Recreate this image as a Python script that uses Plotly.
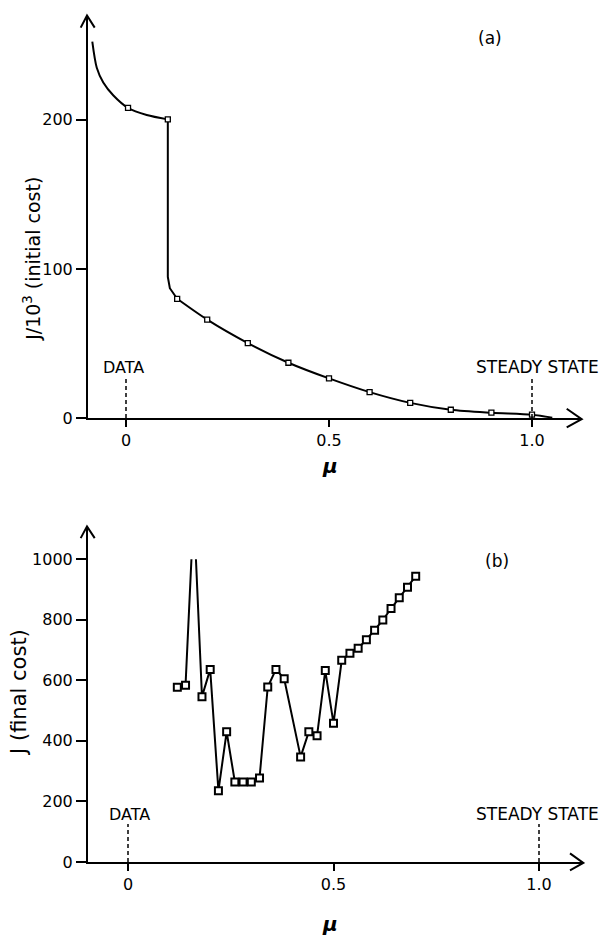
import plotly.graph_objects as go

# ---------------- data ----------------
# Panel (a): J/10^3 (initial cost) versus mu
a_top_mu = [-0.083, -0.072, -0.056, -0.031, 0.005, 0.051, 0.103]
a_top_J = [252.4, 234.9, 225.0, 216.3, 208.0, 203.2, 200.3]
a_drop_mu = [0.103, 0.103, 0.108, 0.126]
a_drop_J = [200.3, 94.7, 87.1, 80.0]
a_tail_mu = [0.126, 0.20, 0.30, 0.40, 0.50, 0.60, 0.70, 0.80, 0.90, 1.00, 1.05]
a_tail_J = [80.0, 66.0, 50.3, 37.1, 26.6, 17.4, 10.2, 5.6, 3.6, 2.3, 0.3]
a_mark_mu = [0.005, 0.103, 0.126, 0.20, 0.30, 0.40, 0.50, 0.60, 0.70, 0.80, 0.90, 1.00]
a_mark_J = [208.0, 200.3, 80.0, 66.0, 50.3, 37.1, 26.6, 17.4, 10.2, 5.6, 3.6, 2.3]

# Panel (b): J (final cost) versus mu
b_mu = [0.12, 0.14, 0.16, 0.18, 0.20, 0.22, 0.24, 0.26, 0.28, 0.30, 0.32, 0.34, 0.36, 0.38,
        0.42, 0.44, 0.46, 0.48, 0.50, 0.52, 0.54, 0.56, 0.58, 0.60, 0.62, 0.64, 0.66, 0.68, 0.70]
b_J = [577, 584, 1164, 546, 636, 235, 430, 264, 264, 264, 277, 578, 636, 605,
       347, 430, 417, 632, 458, 666, 689, 706, 734, 765, 799, 837, 873, 907, 944]

a_xticks = [0, 0.5, 1.0]
a_xticklabels = ["0", "0.5", "1.0"]
a_yticks = [0, 100, 200]
b_xticks = [0, 0.5, 1.0]
b_xticklabels = ["0", "0.5", "1.0"]
b_yticks = [0, 200, 400, 600, 800, 1000]

# ---------------- layout helpers ----------------
W, H = 604, 943
OX, OY = 0, 0  # body margin is removed by post_script
FW, FH = W - OX, H - OY


def px(x):
    return (x - OX) / FW


def py(y):
    return 1 - (y - OY) / FH


FONT = "DejaVu Sans"
BLACK = "#000000"

fig = go.Figure()

# panel (a)
fig.add_trace(go.Scatter(x=a_top_mu, y=a_top_J, mode="lines",
                         line=dict(color=BLACK, width=2, shape="spline", smoothing=0.8),
                         xaxis="x", yaxis="y", hoverinfo="skip"))
fig.add_trace(go.Scatter(x=a_drop_mu, y=a_drop_J, mode="lines",
                         line=dict(color=BLACK, width=2),
                         xaxis="x", yaxis="y", hoverinfo="skip"))
fig.add_trace(go.Scatter(x=a_tail_mu, y=a_tail_J, mode="lines",
                         line=dict(color=BLACK, width=2, shape="spline", smoothing=0.8),
                         xaxis="x", yaxis="y", hoverinfo="skip"))
fig.add_trace(go.Scatter(x=a_mark_mu, y=a_mark_J, mode="markers",
                         marker=dict(symbol="square", size=5, color="white",
                                     line=dict(color=BLACK, width=1.3)),
                         xaxis="x", yaxis="y"))
# panel (b)
fig.add_trace(go.Scatter(x=b_mu, y=b_J, mode="lines+markers",
                         line=dict(color=BLACK, width=2),
                         marker=dict(symbol="square", size=7, color="white",
                                     line=dict(color=BLACK, width=2)),
                         xaxis="x2", yaxis="y2"))

axis_common = dict(showline=True, linecolor=BLACK, linewidth=2, ticks="outside",
                   tickcolor=BLACK, tickwidth=2, showgrid=False, zeroline=False,
                   tickfont=dict(family=FONT, size=16, color=BLACK))

# pixel geometry
a_x0, a_x1 = 88, 581.7      # y-axis position, arrow tip
a_mu0_px, a_mu1_px = 126, 532  # mu=0, mu=1
a_ybot, a_ytop = 417.5, 6.7
a_J100 = 152.2               # px per 100
b_x0, b_x1 = 88, 583.3
b_mu0_px, b_mu1_px = 128, 539
b_ybot, b_ytop = 870.5, 561.5
b_arrow_top = 528

a_scale = a_mu1_px - a_mu0_px
b_scale = b_mu1_px - b_mu0_px

fig.update_layout(
    width=FW, height=FH, margin=dict(l=0, r=0, t=0, b=0),
    paper_bgcolor="white", plot_bgcolor="white", showlegend=False,
    xaxis=dict(domain=[px(a_x0), px(a_x1)],
               range=[(a_x0 - a_mu0_px) / a_scale, (a_x1 - a_mu0_px) / a_scale],
               tickvals=a_xticks, ticktext=a_xticklabels, ticklen=7, anchor="y",
               **axis_common),
    yaxis=dict(domain=[py(a_ybot), py(a_ytop)],
               range=[0, (a_ybot - a_ytop) / a_J100 * 100],
               tickvals=a_yticks, ticklen=10, anchor="x", **axis_common),
    xaxis2=dict(domain=[px(b_x0), px(b_x1)],
                range=[(b_x0 - b_mu0_px) / b_scale, (b_x1 - b_mu0_px) / b_scale],
                tickvals=b_xticks, ticktext=b_xticklabels, ticklen=7, anchor="y2",
                **axis_common),
    yaxis2=dict(domain=[py(b_ybot), py(b_ytop)], range=[0, 1000],
                tickvals=b_yticks, ticklen=10, anchor="x2", **axis_common),
)

shapes = []
line_k = dict(color=BLACK, width=2)
dash_k = dict(color=BLACK, width=1.5, dash="4px,3px")


def chevron(points):
    path = "M {} {} L {} {} L {} {}".format(*[v for p in points for v in (px(p[0]), py(p[1]))])
    return dict(type="path", xref="paper", yref="paper", path=path, line=line_k)


# arrowheads
shapes.append(chevron([(80.7, 19), (87, a_ytop), (94.7, 19)]))
shapes.append(chevron([(566.7, 408), (a_x1, a_ybot + 1), (566.7, 427)]))
shapes.append(chevron([(80.7, 540), (87, b_arrow_top), (94.7, 540)]))
shapes.append(chevron([(570, 861.7), (b_x1, b_ybot + 1), (570, 879)]))
# panel (b) y-axis extension above 1000
shapes.append(dict(type="line", xref="paper", yref="paper",
                   x0=px(b_x0 - 1), x1=px(b_x0 - 1), y0=py(b_ytop + 2), y1=py(b_arrow_top),
                   line=line_k))
# DATA / STEADY STATE dashed markers
shapes.append(dict(type="line", xref="x", yref="y", x0=0, x1=0, y0=0, y1=28, line=dash_k))
shapes.append(dict(type="line", xref="x", yref="y", x0=1, x1=1, y0=0, y1=28, line=dash_k))
shapes.append(dict(type="line", xref="x2", yref="y2", x0=0, x1=0, y0=0, y1=125, line=dash_k))
shapes.append(dict(type="line", xref="x2", yref="y2", x0=1, x1=1, y0=0, y1=125, line=dash_k))
fig.update_layout(shapes=shapes)

ann = []


def text(x, y, s, size, xanchor="center", angle=0):
    ann.append(dict(x=px(x), y=py(y), xref="paper", yref="paper", text=s, showarrow=False,
                    xanchor=xanchor, yanchor="middle", textangle=angle,
                    font=dict(family=FONT, size=size, color=BLACK)))


text(490, 30, "(a)", 17)
text(497, 563, "(b)", 17)
text(123.5, 366, "DATA", 16)
text(129.5, 822, "DATA", 16)
text(601, 365, "STEADY STATE", 17, xanchor="right")
text(601, 822, "STEADY STATE", 17, xanchor="right")
text(32, 255, "J/10<sup>3</sup> (initial cost)", 19, angle=-90)
text(19, 698, "J (final cost)", 21, angle=-90)
text(330, 466, "<b><i>μ</i></b>", 20)
text(330, 934, "<b><i>μ</i></b>", 20)
fig.update_layout(annotations=ann)

fig.write_html("out.html", config={"displayModeBar": False},
               post_script="document.body.style.margin='0';document.body.style.overflow='hidden';")
